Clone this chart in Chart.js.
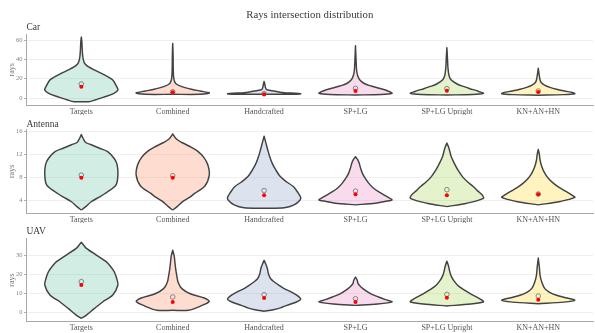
<!DOCTYPE html>
<html>
<head>
<meta charset="utf-8">
<script src="https://cdn.jsdelivr.net/npm/chart.js@4/dist/chart.umd.min.js"></script>
<style>
  html, body { margin: 0; padding: 0; background: #ffffff; }
  #wrap { position: relative; width: 595px; height: 333px; overflow: hidden; background: #ffffff; }
  #wrap canvas { position: absolute; left: 0; }
</style>
</head>
<body>
<div id="wrap">
  <canvas id="car" width="598" height="115" style="top:0px;width:598px;height:115px"></canvas>
  <canvas id="antenna" width="598" height="108" style="top:115px;width:598px;height:108px"></canvas>
  <canvas id="uav" width="598" height="110" style="top:223px;width:598px;height:110px"></canvas>
</div>
<script>
// Methods compared on every panel
const methods = ['Targets', 'Combined', 'Handcrafted', 'SP+LG', 'SP+LG Upright', 'KN+AN+HN'];

// Tick values of each panel's y axis
const carTicks = [0, 20, 40, 60];
const antennaTicks = [4, 8, 12, 16];
const uavTicks = [0, 10, 20, 30];

// Density profiles: [rays, relative half-width], from bottom to top
const carTargets = [[-3.8,0],[-3.8,0.2],[-2.1,0.37],[1.3,0.64],[4.5,0.88],[8.3,1.0],[13,0.95],[18.6,0.86],[22,0.72],[25.5,0.55],[29,0.36],[32.4,0.19],[35,0.11],[37.6,0.07],[42.7,0.04],[50,0.025],[58,0.015],[63,0]];
const carCombined = [[3.8,0],[3.8,0.75],[4.6,0.97],[5.4,1.0],[7.2,0.75],[9.3,0.48],[11.7,0.25],[15,0.08],[20,0.03],[30,0.015],[45,0.01],[56.5,0]];
const carHandcrafted = [[3.8,0],[3.9,0.8],[4.4,1.0],[4.9,0.85],[5.4,0.55],[6.2,0.4],[7.2,0.28],[8.3,0.1],[9.5,0.05],[12,0.03],[15,0.015],[17,0]];
const carSpLg = [[3.1,0],[3.6,0.7],[4.9,1.0],[6.5,0.93],[8.3,0.82],[10.3,0.62],[12.4,0.43],[15,0.24],[18.6,0.12],[23,0.06],[29,0.03],[40,0.015],[54,0]];
const carSpLgUpright = [[3.1,0],[3.6,0.7],[4.9,1.0],[6.3,0.9],[7.6,0.81],[9.6,0.63],[11.7,0.47],[14.5,0.28],[18.6,0.12],[23,0.06],[31,0.03],[42,0.015],[52,0]];
const carKnAnHn = [[2.9,0],[3.5,0.7],[4.4,1.0],[5.5,0.95],[7.2,0.72],[9,0.5],[11,0.32],[13.4,0.17],[16,0.08],[18.6,0.05],[24,0.025],[30.7,0]];

const antennaTargets = [[2.3,0],[2.9,0.12],[3.75,0.27],[4.6,0.5],[5.5,0.72],[6.7,0.95],[8.4,1.0],[10.2,0.98],[11.3,0.9],[12.5,0.72],[13.1,0.5],[13.7,0.27],[14.1,0.12],[14.8,0.05],[15.5,0]];
const antennaCombined = [[2.3,0],[2.9,0.12],[3.8,0.28],[4.6,0.48],[5.2,0.6],[6.5,0.88],[8.4,1.0],[10.2,0.96],[11.5,0.85],[12.6,0.68],[13.4,0.47],[14.1,0.25],[14.7,0.1],[15.6,0]];
const antennaHandcrafted = [[2.6,0],[2.7,0.55],[3.2,0.82],[4.0,0.98],[4.5,1.0],[5.3,0.93],[6.4,0.8],[7.2,0.62],[8.1,0.45],[9.3,0.32],[10.5,0.22],[11.7,0.15],[12.8,0.1],[14,0.05],[15.2,0]];
const antennaSpLg = [[3.2,0],[3.5,0.55],[3.8,0.8],[4.05,1.0],[4.5,0.9],[5.5,0.63],[6.2,0.48],[7.0,0.36],[7.9,0.26],[8.7,0.19],[9.6,0.14],[10.5,0.1],[11.1,0.06],[11.6,0]];
const antennaSpLgUpright = [[2.9,0],[3.5,0.55],[4.35,1.0],[4.9,0.97],[5.6,0.85],[6.4,0.72],[7.2,0.57],[8.1,0.43],[9.3,0.3],[10.5,0.2],[11.6,0.12],[12.8,0.07],[13.4,0.04],[14,0]];
const antennaKnAnHn = [[3.2,0],[3.8,0.6],[4.5,1.0],[5.0,0.9],[5.5,0.77],[6.2,0.58],[7.0,0.41],[7.8,0.28],[8.7,0.18],[9.8,0.1],[11,0.05],[12,0.03],[12.9,0]];

const uavTargets = [[-3.3,0],[-1.6,0.14],[1.9,0.36],[5.4,0.59],[8.9,0.86],[14.2,1.0],[17.5,0.97],[21.2,0.9],[24,0.8],[26.5,0.68],[30,0.41],[33.5,0.14],[35,0.07],[36.7,0]];
const uavCombined = [[0.9,0],[0.9,0.43],[3.2,0.77],[5.6,1.0],[7.4,0.86],[9.6,0.48],[12.3,0.25],[15.5,0.15],[19.3,0.11],[22.8,0.08],[26.3,0.06],[29.5,0.04],[32.5,0]];
const uavHandcrafted = [[0.4,0],[1.2,0.25],[2.2,0.45],[3.5,0.62],[5,0.85],[6.7,1.0],[8.5,0.92],[10.5,0.75],[12.3,0.55],[14,0.41],[15.8,0.28],[17.5,0.18],[20,0.12],[22.8,0.09],[25,0.05],[27.2,0]];
const uavSpLg = [[3.5,0],[4.2,0.6],[5.3,1.0],[6.5,0.82],[7.9,0.63],[9.6,0.42],[11.4,0.27],[13.2,0.15],[14.9,0.07],[16.6,0.05],[18.4,0]];
const uavSpLgUpright = [[3.2,0],[4.2,0.65],[5.3,1.0],[6.1,0.97],[7.8,0.82],[9.6,0.65],[11.8,0.46],[14,0.3],[16.5,0.19],[19.3,0.11],[22,0.07],[24.5,0.04],[26.7,0]];
const uavKnAnHn = [[4.4,0],[5.2,0.7],[6.2,1.0],[7.5,0.75],[8.8,0.5],[10.5,0.3],[12.3,0.18],[15.5,0.1],[19.3,0.05],[23.5,0.03],[28.4,0]];

// Median (filled red dot) and mean (open circle) per method
const carMedian = [11.7, 5.9, 3.9, 7.2, 7.6, 6.2];
const carMean = [14.5, 6.5, 4.4, 10, 9.7, 7.2];
const antennaMedian = [7.95, 7.95, 4.9, 5.05, 4.9, 5.05];
const antennaMean = [8.4, 8.3, 5.7, 5.6, 5.85, 5.1];
const uavMedian = [14.2, 5.3, 7.4, 5.3, 7.5, 6.5];
const uavMean = [16, 7.9, 9.1, 7, 9.3, 8.4];

// Fill colours (Set2 at 30% opacity)
const palette = ['rgba(102,194,165,0.3)', 'rgba(252,141,98,0.3)', 'rgba(141,160,203,0.3)',
                 'rgba(231,138,195,0.3)', 'rgba(166,216,84,0.3)', 'rgba(255,217,47,0.3)'];

const SERIF = '"Liberation Serif", "DejaVu Serif", serif';
const HALF_WIDTH = 0.4;  // maximum half-width of a violin, in category units

// Outline of one violin: right side upwards, then left side downwards
function violinOutline(profile, index) {
  const c = index + 1;
  const right = profile.map(([v, w]) => ({ x: c + HALF_WIDTH * w, y: v }));
  const left = profile.slice().reverse().map(([v, w]) => ({ x: c - HALF_WIDTH * w, y: v }));
  return right.concat(left);
}

// Panel heading / main title text
const panelText = {
  id: 'panelText',
  afterDraw(chart, args, opts) {
    const { ctx, chartArea } = chart;
    ctx.save();
    ctx.textBaseline = 'middle';
    if (opts.heading) {
      ctx.fillStyle = '#3a3a3a';
      ctx.font = '10.8px ' + SERIF;
      ctx.textAlign = 'center';
      ctx.fillText(opts.heading, (chartArea.left + chartArea.right) / 2, opts.headingY);
    }
    ctx.fillStyle = '#3a3a3a';
    ctx.font = '9.5px ' + SERIF;
    ctx.textAlign = 'left';
    ctx.fillText(opts.label, chartArea.left, opts.labelY);
    ctx.restore();
  }
};

function makePanel(id, profiles, medians, means, ticks, yMin, yMax, frame, text) {
  const datasets = [];
  profiles.forEach((p, i) => {
    datasets.push({
      data: violinOutline(p, i),
      showLine: true,
      fill: 'shape',
      backgroundColor: palette[i],
      borderColor: '#424242',
      borderWidth: 1.45,
      borderJoinStyle: 'round',
      tension: 0.3,
      pointRadius: 0,
      order: 3
    });
  });
  datasets.push({
    data: means.map((v, i) => ({ x: i + 1, y: v })),
    pointRadius: 2.3,
    backgroundColor: 'rgba(0,0,0,0)',
    borderColor: '#7a7a7a',
    borderWidth: 0.9,
    order: 2
  });
  datasets.push({
    data: medians.map((v, i) => ({ x: i + 1, y: v })),
    pointRadius: 2,
    backgroundColor: '#ff0000',
    borderWidth: 0,
    order: 1
  });

  const canvas = document.getElementById(id);
  return new Chart(canvas, {
    type: 'scatter',
    data: { datasets },
    plugins: [panelText],
    options: {
      responsive: false,
      animation: false,
      events: [],
      layout: { padding: { top: frame.top, left: 0, right: 0, bottom: 0 } },
      plugins: {
        legend: { display: false },
        tooltip: { enabled: false },
        panelText: text
      },
      scales: {
        x: {
          type: 'linear',
          min: 0.4,
          max: 6.6,
          afterBuildTicks: s => { s.ticks = methods.map((m, i) => ({ value: i + 1 })); },
          afterFit: s => { s.height = frame.xHeight; },
          grid: { display: false, drawTicks: false },
          border: { display: true, color: '#a8a8a8', width: 1 },
          ticks: {
            autoSkip: false, maxRotation: 0, minRotation: 0, padding: 1.5,
            color: '#555555', font: { family: SERIF, size: 8 },
            callback: v => methods[Math.round(v) - 1]
          }
        },
        y: {
          type: 'linear',
          min: yMin,
          max: yMax,
          afterBuildTicks: s => { s.ticks = ticks.map(v => ({ value: v })); },
          afterFit: s => { s.width = 26.5; },
          grid: { color: '#ebebeb', lineWidth: 0.8, drawTicks: true, tickLength: 2.5, tickColor: '#9a9a9a' },
          border: { display: true, color: '#a8a8a8', width: 1 },
          ticks: { padding: 1.5, color: '#858585', font: { family: SERIF, size: 6.5 } },
          title: {
            display: true, text: 'rays', color: '#777777',
            font: { family: SERIF, size: 8 }, padding: { top: 7.5, bottom: 0 }
          }
        }
      }
    }
  });
}

makePanel('car',
  [carTargets, carCombined, carHandcrafted, carSpLg, carSpLgUpright, carKnAnHn],
  carMedian, carMean, carTicks, -7.55, 66,
  { top: 34.2, xHeight: 9.7 },
  { heading: 'Rays intersection distribution', headingY: 15.5, label: 'Car', labelY: 27 });

makePanel('antenna',
  [antennaTargets, antennaCombined, antennaHandcrafted, antennaSpLg, antennaSpLgUpright, antennaKnAnHn],
  antennaMedian, antennaMean, antennaTicks, 1.73, 16.37,
  { top: 14.5, xHeight: 9.7 },
  { label: 'Antenna', labelY: 9 });

makePanel('uav',
  [uavTargets, uavCombined, uavHandcrafted, uavSpLg, uavSpLgUpright, uavKnAnHn],
  uavMedian, uavMean, uavTicks, -5.1, 38.7,
  { top: 15.5, xHeight: 11.3 },
  { label: 'UAV', labelY: 8 });
</script>
</body>
</html>
